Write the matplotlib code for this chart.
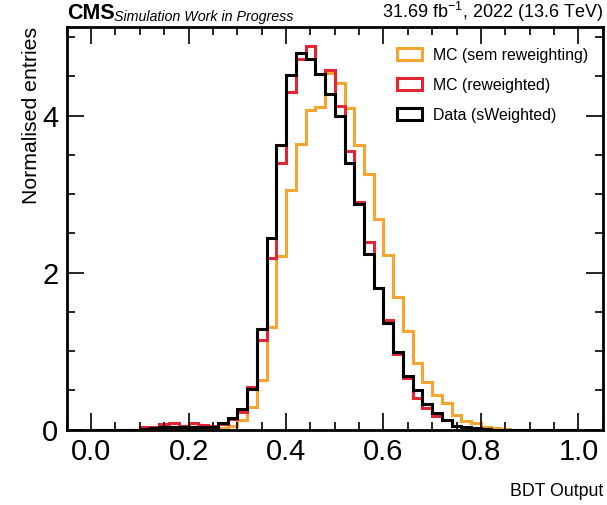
import numpy as np
import matplotlib
matplotlib.use("Agg")
import matplotlib.pyplot as plt
from matplotlib.ticker import MultipleLocator
from matplotlib.patches import Patch

plt.rcParams['font.family'] = ['Liberation Sans', 'DejaVu Sans']
plt.rcParams['mathtext.fontset'] = 'custom'
plt.rcParams['mathtext.rm'] = 'Liberation Sans'

# 50 bins from 0 to 1 (width 0.02)
bin_lo = 0.0
bin_hi = 1.0
n_bins = 50

mc_nominal = [0, 0, 0, 0, 0, 0, 0, 0, 0, 0,
              0, 0, 0.01, 0.02, 0.05, 0.12, 0.29, 0.63, 1.31, 2.21,
              3.05, 3.64, 4.07, 4.11, 4.54, 4.41, 4.10, 3.63, 3.26, 2.68,
              2.22, 1.69, 1.26, 0.85, 0.61, 0.44, 0.34, 0.19, 0.11, 0.08,
              0.04, 0.02, 0.01, 0, 0, 0, 0, 0, 0, 0]

mc_reweighted = [0, 0, 0, 0, 0, 0.03, 0.04, 0.07, 0.09, 0.05,
                 0.08, 0.06, 0.05, 0.07, 0.14, 0.23, 0.54, 1.14, 2.19, 3.39,
                 4.30, 4.72, 4.88, 4.53, 4.58, 4.12, 3.55, 2.90, 2.39, 1.81,
                 1.40, 0.96, 0.66, 0.40, 0.28, 0.18, 0.12, 0.05, 0.03, 0.02,
                 0.01, 0, 0, 0, 0, 0, 0, 0, 0, 0]

data_sw = [0, 0, 0, 0, 0, 0.01, 0.02, 0.03, 0.03, 0.03,
           0.03, 0.03, 0.04, 0.08, 0.15, 0.26, 0.52, 1.28, 2.44, 3.63,
           4.52, 4.80, 4.72, 4.53, 4.27, 4.00, 3.39, 2.88, 2.24, 1.81,
           1.36, 0.99, 0.69, 0.50, 0.33, 0.21, 0.12, 0.05, 0.03, 0.02,
           0.01, 0, 0, 0, 0, 0, 0, 0, 0, 0]

labels = ["MC (sem reweighting)", "MC (reweighted)", "Data (sWeighted)"]
colors = ["#f5a530", "#e42536", "black"]

edges = np.linspace(bin_lo, bin_hi, n_bins + 1)

fig = plt.figure(figsize=(6.07, 5.05), dpi=100)
ax = fig.add_axes([0.110, 0.149, 0.883, 0.797])

handles = []
for vals, lab, col in zip([mc_nominal, mc_reweighted, data_sw], labels, colors):
    ax.stairs(vals, edges, color=col, linewidth=2.2)
    handles.append(Patch(facecolor="none", edgecolor=col, linewidth=2.2, label=lab))

ax.set_xlim(-0.05, 1.05)
ax.set_ylim(0, 1.05 * max(max(mc_nominal), max(mc_reweighted), max(data_sw)))

ax.xaxis.set_major_locator(MultipleLocator(0.2))
ax.xaxis.set_minor_locator(MultipleLocator(0.05))
ax.yaxis.set_major_locator(MultipleLocator(2))
ax.yaxis.set_minor_locator(MultipleLocator(0.5))
ax.tick_params(which="both", direction="in", top=True, right=True, width=1.2)
ax.tick_params(which="major", length=12, labelsize=21, pad=6)
ax.tick_params(which="minor", length=6)
for s in ax.spines.values():
    s.set_linewidth(2)

ax.set_xlabel("BDT Output", fontsize=12.8, loc="right", labelpad=12)
ax.set_ylabel("Normalised entries", fontsize=15.3, loc="top", labelpad=1)

leg = ax.legend(handles=handles, loc="upper right", frameon=False, fontsize=11.4,
                handlelength=1.6, handleheight=0.75, handletextpad=0.7,
                labelspacing=0.95, borderaxespad=0.0, bbox_to_anchor=(0.985, 0.965))

ax.text(0.0, 1.008, "CMS", transform=ax.transAxes, fontsize=15.5,
        fontweight="bold", ha="left", va="bottom")
ax.text(0.088, 1.008, "Simulation Work in Progress", transform=ax.transAxes,
        fontsize=10.3, style="italic", ha="left", va="bottom")
ax.text(1.0, 1.008, r"31.69 fb$^{-1}$, 2022 (13.6 TeV)", transform=ax.transAxes,
        fontsize=13, ha="right", va="bottom")

plt.savefig("out.png", dpi=100)
plt.close()
